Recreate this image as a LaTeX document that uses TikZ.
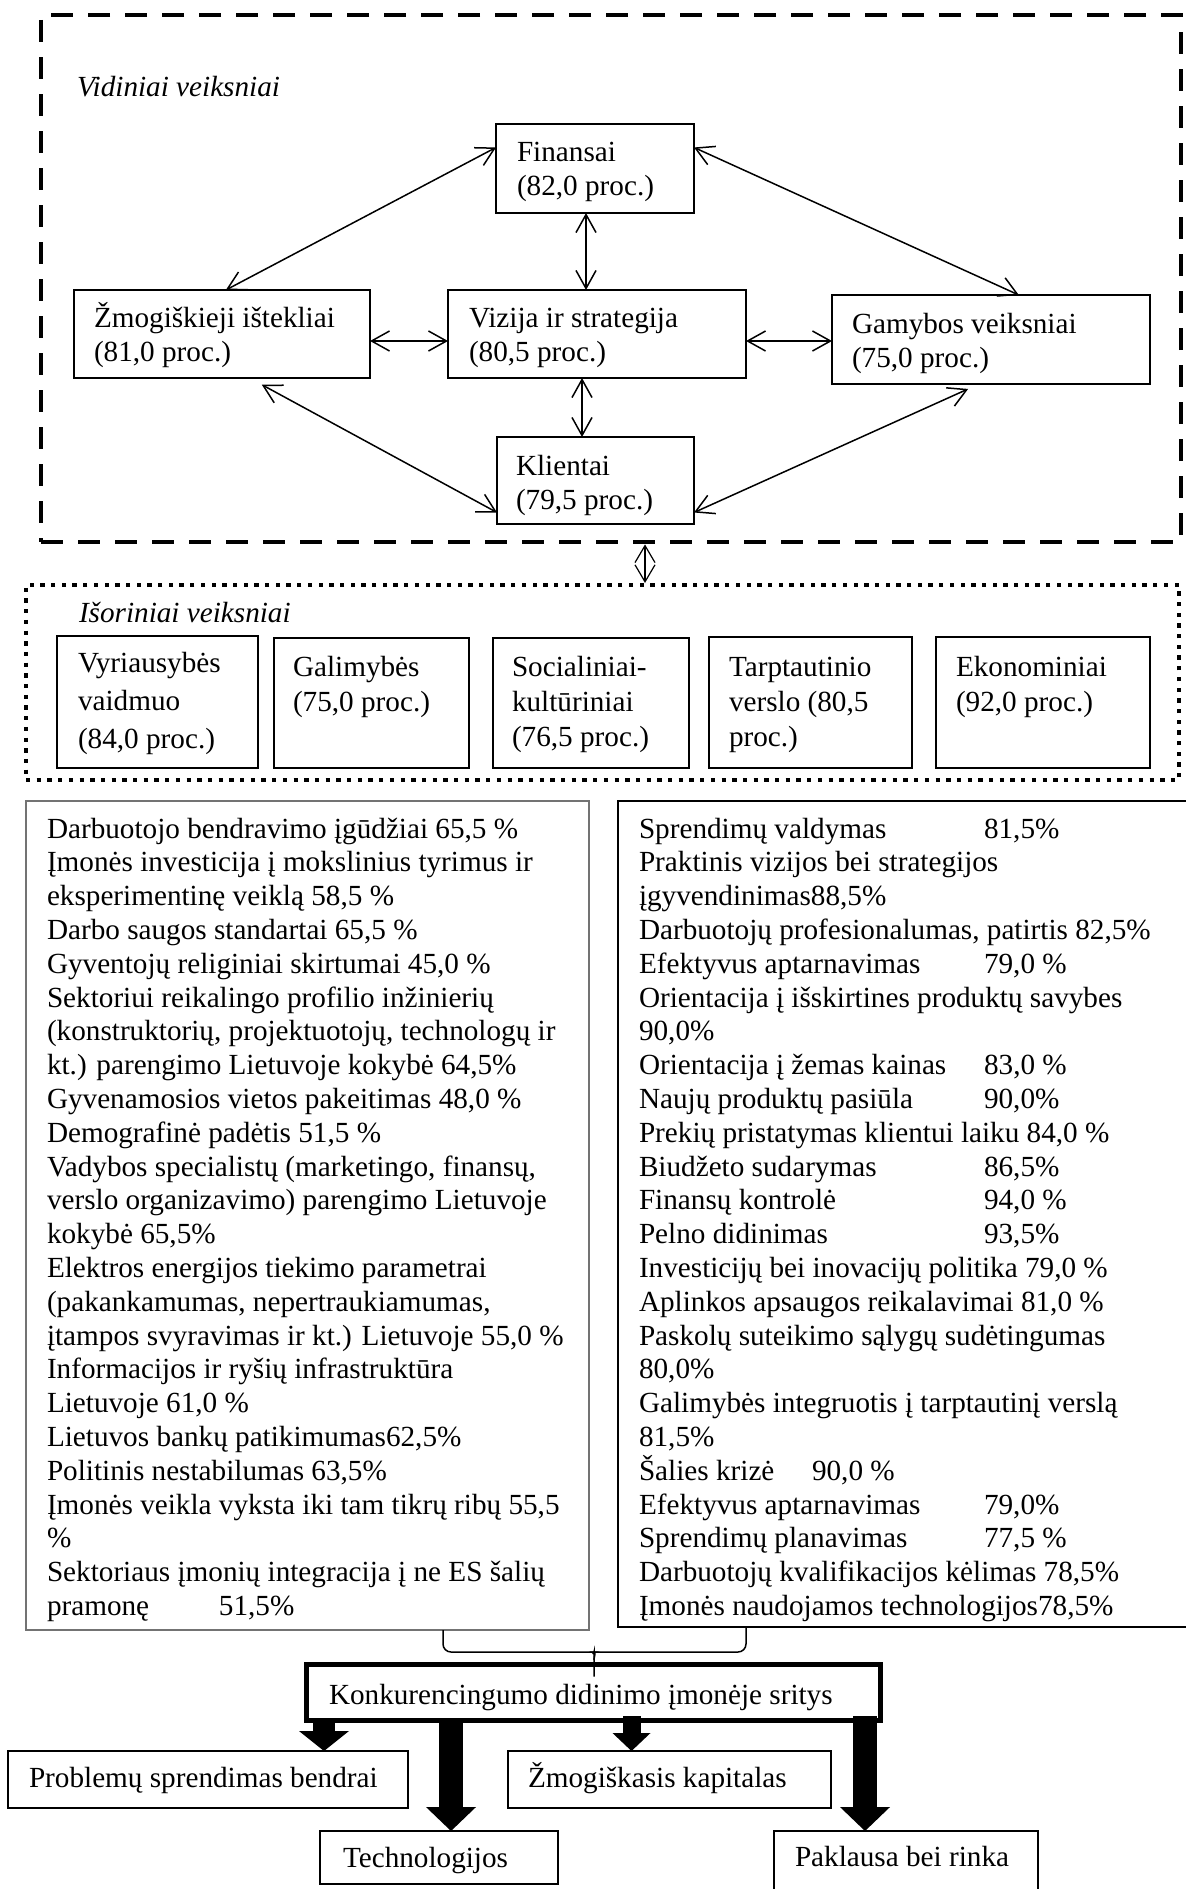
\documentclass[tikz,border=0pt]{standalone}
\usepackage{fontspec}
\setmainfont{Liberation Serif}
\usetikzlibrary{arrows.meta,calc}

% stacked lines with a fixed baseline pitch; the box baseline is the first line
\newcommand\lines[1]{\vtop{\lineskiplimit=-100pt\lineskip=0pt\halign{##\hfil\cr#1\crcr}}}
% left part of a tabbed line
\newcommand\tabto[2]{\makebox[#1][l]{#2}}
% wide filled arrow: start, tip, shaft width, head length, half head width
\newcommand\blockarrow[5]{%
  \draw[line width=#3] (#1) -- ($(#2)+(0,-#4)$);
  \fill ($(#2)+(-#5,-#4)$) -- ($(#2)+(#5,-#4)$) -- (#2) -- cycle;}

\begin{document}
\begin{tikzpicture}[x=0.5pt, y=-0.5pt,
  every node/.style={inner sep=0pt, outer sep=0pt, font=\fontsize{14.6}{17}\selectfont},
  box/.style={draw, line width=1pt, anchor=north west},
  txt/.style={anchor=base west},
  listtxt/.style={anchor=base west, font=\fontsize{14.6}{16.9}\selectfont},
  smalltxt/.style={anchor=base west, font=\fontsize{14.6}{17.5}\selectfont},
  conn/.style={line width=0.75pt, >={Straight Barb[length=9pt,width=10pt]}, <->},
  thinconn/.style={line width=0.6pt, >={Straight Barb[length=8.5pt,width=10pt]}, <->},
  brace/.style={line width=0.75pt, rounded corners=4pt},
]
\useasboundingbox (0,0) rectangle (1185,1889);
\fill[white] (0,0) rectangle (1185,1889);

% ---------- internal factors ----------
\node[draw, line width=2.4pt, dash pattern=on 11pt off 7.5pt, anchor=north west,
      minimum width=570pt, minimum height=263.5pt] (vid) at (41,15) {};
\node[txt, font=\fontsize{14.6}{17}\selectfont\itshape] (vidlbl) at (77,97) {Vidiniai veiksniai};

\node[box, minimum width=99pt,  minimum height=44.5pt] (fin)  at (496,124) {};
\node[box, minimum width=148pt, minimum height=44pt]   (zmog) at (74,290)  {};
\node[box, minimum width=149pt, minimum height=44pt]   (viz)  at (448,290) {};
\node[box, minimum width=159pt, minimum height=44.5pt] (gam)  at (832,295) {};
\node[box, minimum width=98.5pt,minimum height=43.5pt] (kli)  at (497,437) {};

\node[txt] (fin-t)  at (517,162) {\lines{Finansai\cr (82,0 proc.)}};
\node[txt] (zmog-t) at (94,327)  {\lines{Žmogiškieji ištekliai\cr (81,0 proc.)}};
\node[txt] (viz-t)  at (469,327) {\lines{Vizija ir strategija\cr (80,5 proc.)}};
\node[txt] (gam-t)  at (852,333) {\lines{Gamybos veiksniai\cr (75,0 proc.)}};
\node[txt] (kli-t)  at (516,475) {\lines{Klientai\cr (79,5 proc.)}};

\coordinate (vf) at (586,0);
\coordinate (vk) at (582,0);
\coordinate (hy) at (0,341);
\draw[conn] (fin.168) -- (zmog.85);
\draw[conn] (fin.12) -- (gam.58);
\draw[conn] (fin.south -| vf) -- (viz.north -| vf);
\draw[conn] (zmog.east |- hy) -- (viz.west |- hy);
\draw[conn] (viz.east |- hy) -- (gam.west |- hy);
\draw[conn] (viz.south -| vk) -- (kli.north -| vk);
\draw[conn, shorten <=7pt] (zmog.302) -- (kli.198);
\draw[conn, shorten <=6pt] (gam.255) -- (kli.342);

% ---------- external factors ----------
\node[draw, line width=2.15pt, dash pattern=on 2.15pt off 3.2pt, anchor=north west,
      minimum width=576.5pt, minimum height=97.5pt] (isor) at (26,585) {};
\node[txt, font=\fontsize{14.6}{17}\selectfont\itshape] (isorlbl) at (79,622) {Išoriniai veiksniai};

\coordinate (va) at (645,0);
\draw[thinconn, shorten <=1.2pt, shorten >=1pt] (vid.south -| va) -- (isor.north -| va);

\node[box, minimum width=100.5pt, minimum height=66pt]   (e1) at (57,636)  {};
\node[box, minimum width=97.5pt,  minimum height=65pt]   (e2) at (274,638) {};
\node[box, minimum width=98pt,    minimum height=65pt]   (e3) at (493,638) {};
\node[box, minimum width=101.5pt, minimum height=65.5pt] (e4) at (709,637) {};
\node[box, minimum width=107pt,   minimum height=65.5pt] (e5) at (936,637) {};

\node[anchor=base west, font=\fontsize{14.6}{19}\selectfont] (e1-t) at (78,672)
  {\lines{Vyriausybės\cr vaidmuo\cr (84,0 proc.)}};
\node[smalltxt] (e2-t) at (293,676) {\lines{Galimybės\cr (75,0 proc.)}};
\node[smalltxt] (e3-t) at (512,676) {\lines{Socialiniai-\cr kultūriniai\cr (76,5 proc.)}};
\node[smalltxt] (e4-t) at (729,676) {\lines{Tarptautinio\cr verslo (80,5\cr proc.)}};
\node[smalltxt] (e5-t) at (956,676) {\lines{Ekonominiai\cr (92,0 proc.)}};

% ---------- factor lists ----------
\node[box, draw=black!55, minimum width=281.5pt, minimum height=414.5pt] (llist) at (26,801) {};
\node[box, minimum width=295pt, minimum height=413pt] (rlist) at (618,801) {};

\node[listtxt] (llist-t) at (47,838) {\lines{%
Darbuotojo bendravimo įgūdžiai 65,5 \%\cr
Įmonės investicija į mokslinius tyrimus ir\cr
eksperimentinę veiklą 58,5 \%\cr
Darbo saugos standartai 65,5 \%\cr
Gyventojų religiniai skirtumai 45,0 \%\cr
Sektoriui reikalingo profilio inžinierių\cr
(konstruktorių, projektuotojų, technologų ir\cr
kt.) parengimo Lietuvoje kokybė 64,5\%\cr
Gyvenamosios vietos pakeitimas 48,0 \%\cr
Demografinė padėtis 51,5 \%\cr
Vadybos specialistų (marketingo, finansų,\cr
verslo organizavimo) parengimo Lietuvoje\cr
kokybė 65,5\%\cr
Elektros energijos tiekimo parametrai\cr
(pakankamumas, nepertraukiamumas,\cr
įtampos svyravimas ir kt.) Lietuvoje 55,0 \%\cr
Informacijos ir ryšių infrastruktūra\cr
Lietuvoje 61,0 \%\cr
Lietuvos bankų patikimumas62,5\%\cr
Politinis nestabilumas 63,5\%\cr
Įmonės veikla vyksta iki tam tikrų ribų 55,5\cr
\%\cr
Sektoriaus įmonių integracija į ne ES šalių\cr
\tabto{86pt}{pramonę}51,5\%}};

\node[listtxt] (rlist-t) at (639,838) {\lines{%
\tabto{172.5pt}{Sprendimų valdymas}81,5\%\cr
Praktinis vizijos bei strategijos\cr
įgyvendinimas88,5\%\cr
Darbuotojų profesionalumas, patirtis 82,5\%\cr
\tabto{172.5pt}{Efektyvus aptarnavimas}79,0 \%\cr
Orientacija į išskirtines produktų savybes\cr
90,0\%\cr
\tabto{172.5pt}{Orientacija į žemas kainas}83,0 \%\cr
\tabto{172.5pt}{Naujų produktų pasiūla}90,0\%\cr
Prekių pristatymas klientui laiku 84,0 \%\cr
\tabto{172.5pt}{Biudžeto sudarymas}86,5\%\cr
\tabto{172.5pt}{Finansų kontrolė}94,0 \%\cr
\tabto{172.5pt}{Pelno didinimas}93,5\%\cr
Investicijų bei inovacijų politika 79,0 \%\cr
Aplinkos apsaugos reikalavimai 81,0 \%\cr
Paskolų suteikimo sąlygų sudėtingumas\cr
80,0\%\cr
Galimybės integruotis į tarptautinį verslą\cr
81,5\%\cr
\tabto{86.5pt}{Šalies krizė}90,0 \%\cr
\tabto{172.5pt}{Efektyvus aptarnavimas}79,0\%\cr
\tabto{172.5pt}{Sprendimų planavimas}77,5 \%\cr
Darbuotojų kvalifikacijos kėlimas 78,5\%\cr
Įmonės naudojamos technologijos78,5\%}};

% ---------- areas of competitiveness ----------
\node[draw, line width=2.5pt, anchor=north west, minimum width=287pt, minimum height=27.75pt]
  (konk) at (306.5,1664.5) {};
\node[txt] (konk-t) at (329,1704) {Konkurencingumo didinimo įmonėje sritys};

\node[box, minimum width=200pt,   minimum height=28.5pt] (prob) at (8,1751)   {};
\node[box, minimum width=161.5pt, minimum height=28.5pt] (zk)   at (508,1751) {};
\node[box, minimum width=119pt,   minimum height=26.5pt] (tech) at (320,1831) {};
\node[box, minimum width=132pt,   minimum height=35pt]   (pak)  at (774,1831) {};

\node[txt] (prob-t) at (29,1787)  {Problemų sprendimas bendrai};
\node[txt] (zk-t)   at (528,1787) {Žmogiškasis kapitalas};
\node[txt] (tech-t) at (343,1867) {Technologijos};
\node[txt] (pak-t)  at (795,1866) {Paklausa bei rinka};

% brace joining both lists to the central box
\coordinate (bl) at (443,0);
\coordinate (br) at (746,0);
\coordinate (bc) at (594,0);
\coordinate (by) at (0,1652);
\coordinate (bx1) at (587,1652);
\coordinate (bx2) at (594,1660);
\coordinate (bx3) at (601,1652);
\draw[brace] (llist.south -| bl) -- (bl |- by) -- (bx1) to[out=0,in=90] (bx2)
  -- ($(konk.north -| bc)+(0,12)$);
\draw[brace] (rlist.south -| br) -- (br |- by) -- (bx3) to[out=180,in=90] (bx2);

% wide arrows from the central box
\coordinate (a1) at (324,0);
\coordinate (a2) at (451,0);
\coordinate (a3) at (631.5,0);
\coordinate (a4) at (865,0);
\blockarrow{konk.south -| a1}{prob.north -| a1}{11pt}{20}{25}
\blockarrow{konk.south -| a2}{tech.north -| a2}{12pt}{24}{25}
\blockarrow{$(konk.south -| a3)+(0,-4)$}{zk.north -| a3}{9pt}{18}{19}
\blockarrow{$(konk.south -| a4)+(0,-4)$}{pak.north -| a4}{12pt}{24}{25}
\end{tikzpicture}
\end{document}
